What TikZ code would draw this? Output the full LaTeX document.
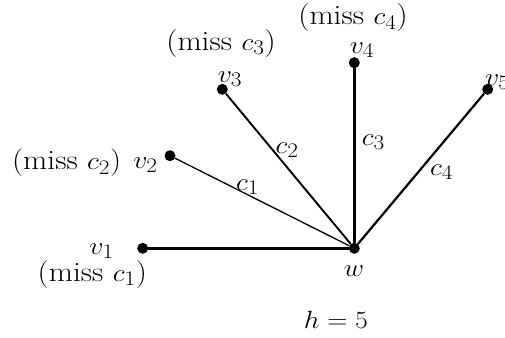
\documentclass[tikz,border=0pt]{standalone}
\usepackage{graphicx}
\newcommand\widetxt[1]{\scalebox{1.12}[1]{#1}}
\begin{document}
\begin{tikzpicture}[x=1pt,y=-1pt,
  vtx/.style={circle,fill=black,inner sep=0pt,minimum size=11pt},
  lbl/.style={inner sep=0pt,anchor=base,font=\fontsize{28}{33}\selectfont},
  edge/.style={line width=#1},
]
\useasboundingbox (0,0) rectangle (505,337);
\node[vtx] (w) at (354.3,248.3) {};
\node[vtx] (v1) at (142.7,248.3) {};
\node[vtx] (v2) at (170,155.7) {};
\node[vtx] (v3) at (222.3,89.3) {};
\node[vtx] (v4) at (354.3,62.7) {};
\node[vtx] (v5) at (487.7,89.3) {};
\draw[edge=2.8pt] (v1) -- (w);
\draw[edge=1.3pt] (v2) -- (w);
\draw[edge=1.9pt] (v3) -- (w);
\draw[edge=2.8pt] (v4) -- (w);
\draw[edge=2.2pt] (v5) -- (w);
\node[lbl] (lv1) at (101.7,254) {\widetxt{$v_1$}};
\node[lbl] (m1) at (92.3,281) {\widetxt{(miss\ $c_1$)}};
\node[lbl] (lv2) at (145.5,168) {\widetxt{$v_2$}};
\node[lbl] (m2) at (66.7,169.5) {\widetxt{(miss\ $c_2$)}};
\node[lbl] (lv3) at (230,82) {\widetxt{$v_3$}};
\node[lbl] (m3) at (221,50) {\widetxt{(miss\ $c_3$)}};
\node[lbl] (lv4) at (362,53) {\widetxt{$v_4$}};
\node[lbl] (m4) at (353,24.5) {\widetxt{(miss\ $c_4$)}};
\node[lbl,anchor=base west] (lv5) at (485,85) {\widetxt{$v_5$}};
\node[lbl] (lw) at (354,276) {\widetxt{$w$}};
\node[lbl] (lc1) at (247.5,190) {\widetxt{$c_1$}};
\node[lbl] (lc2) at (287,153) {\widetxt{$c_2$}};
\node[lbl] (lc3) at (373.3,145) {\widetxt{$c_3$}};
\node[lbl] (lc4) at (441.7,175) {\widetxt{$c_4$}};
\node[lbl] (h) at (336,328) {\widetxt{$h = 5$}};
\end{tikzpicture}
\end{document}
